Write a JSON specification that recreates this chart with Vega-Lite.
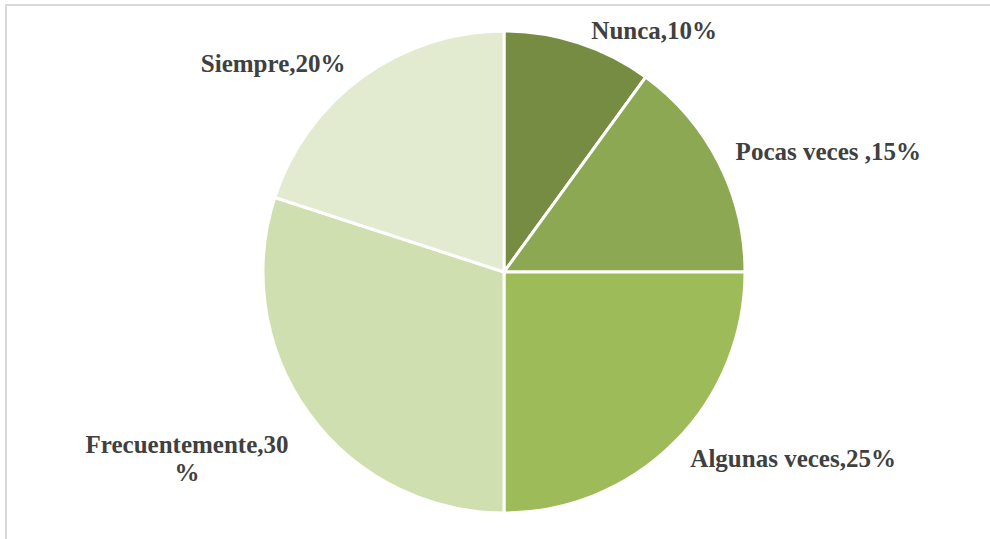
{
  "$schema": "https://vega.github.io/schema/vega-lite/v6.json",
  "autosize": {"type": "none"},
  "width": 996,
  "height": 534,
  "padding": {"left": 6, "top": 5, "right": -12, "bottom": 0},
  "background": "white",
  "view": {"stroke": null},
  "data": {
    "values": [
      {"cat": "Nunca", "value": 10, "order": 1, "label": "Nunca,10%"},
      {"cat": "Pocas veces", "value": 15, "order": 2, "label": "Pocas veces ,15%"},
      {"cat": "Algunas veces", "value": 25, "order": 3, "label": "Algunas veces,25%"},
      {"cat": "Frecuentemente", "value": 30, "order": 4, "label": "Frecuentemente,30\n%"},
      {"cat": "Siempre", "value": 20, "order": 5, "label": "Siempre,20%"}
    ]
  },
  "layer": [
    {
      "data": {"values": [{"frame": 1}]},
      "mark": {"type": "rect", "fill": "transparent", "stroke": "#d9d9d9", "strokeWidth": 2},
      "encoding": {
        "x": {"value": 0},
        "x2": {"value": {"expr": "width + 40"}},
        "y": {"value": 0},
        "y2": {"value": {"expr": "height + 40"}}
      }
    },
    {
      "encoding": {
        "theta": {"field": "value", "type": "quantitative", "stack": true},
        "order": {"field": "order", "type": "quantitative"}
      },
      "layer": [
        {
          "mark": {"type": "arc", "outerRadius": 241, "stroke": "white", "strokeWidth": 3},
          "encoding": {
            "color": {
              "field": "cat",
              "type": "nominal",
              "scale": {
                "domain": ["Nunca", "Pocas veces", "Algunas veces", "Frecuentemente", "Siempre"],
                "range": ["#778C43", "#8CA853", "#9DBB59", "#D0DFB0", "#E2EBD0"]
              },
              "legend": null
            }
          }
        },
        {
          "mark": {"type": "text", "radius": 253, "dx": 72, "dy": 0, "font": "Liberation Serif", "fontWeight": "bold", "fontSize": 25, "fill": "#404040", "align": "center", "baseline": "middle", "lineBreak": "\n", "lineHeight": 28},
          "encoding": {"text": {"condition": {"test": "datum.cat === 'Nunca'", "field": "label"}, "value": ""}}
        },
        {
          "mark": {"type": "text", "radius": 300, "dx": 57, "dy": 16, "font": "Liberation Serif", "fontWeight": "bold", "fontSize": 25, "fill": "#404040", "align": "center", "baseline": "middle", "lineBreak": "\n", "lineHeight": 28},
          "encoding": {"text": {"condition": {"test": "datum.cat === 'Pocas veces'", "field": "label"}, "value": ""}}
        },
        {
          "mark": {"type": "text", "radius": 300, "dx": 77, "dy": -25, "font": "Liberation Serif", "fontWeight": "bold", "fontSize": 25, "fill": "#404040", "align": "center", "baseline": "middle", "lineBreak": "\n", "lineHeight": 28},
          "encoding": {"text": {"condition": {"test": "datum.cat === 'Algunas veces'", "field": "label"}, "value": ""}}
        },
        {
          "mark": {"type": "text", "radius": 330, "dx": -50, "dy": -21, "font": "Liberation Serif", "fontWeight": "bold", "fontSize": 25, "fill": "#404040", "align": "center", "baseline": "middle", "lineBreak": "\n", "lineHeight": 28},
          "encoding": {"text": {"condition": {"test": "datum.cat === 'Frecuentemente'", "field": "label"}, "value": ""}}
        },
        {
          "mark": {"type": "text", "radius": 260, "dx": -78, "dy": 2, "font": "Liberation Serif", "fontWeight": "bold", "fontSize": 25, "fill": "#404040", "align": "center", "baseline": "middle", "lineBreak": "\n", "lineHeight": 28},
          "encoding": {"text": {"condition": {"test": "datum.cat === 'Siempre'", "field": "label"}, "value": ""}}
        }
      ]
    }
  ]
}
